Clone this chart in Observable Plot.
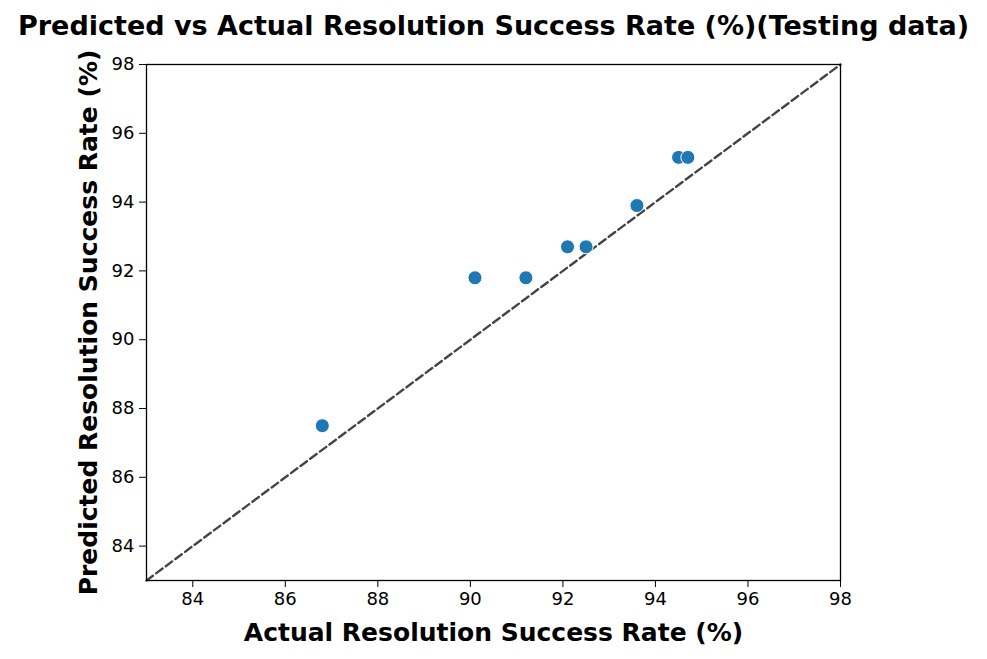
<!DOCTYPE html>
<html><head><meta charset="utf-8">
<script src="https://cdn.jsdelivr.net/npm/d3@7"></script>
<script src="https://cdn.jsdelivr.net/npm/@observablehq/plot@0.6"></script>
<style>
body{margin:0;background:#fff;font-family:"DejaVu Sans",sans-serif;}
#title{height:46px;line-height:52px;text-align:center;font-weight:bold;font-size:27px;color:#000;width:987px;white-space:nowrap;}
</style></head><body>
<div id="title">Predicted vs Actual Resolution Success Rate (%)(Testing data)</div>
<div id="chart"></div>
<script>
const actual = [86.8, 90.1, 91.2, 92.1, 92.5, 93.6, 94.5, 94.7];
const predicted = [87.5, 91.8, 91.8, 92.7, 92.7, 93.9, 95.3, 95.3];
const ticks = [84, 86, 88, 90, 92, 94, 96, 98];
const diagonal = [83, 98];
const xLabel = "Actual Resolution Success Rate (%)";
const yLabel = "Predicted Resolution Success Rate (%)";

const points = actual.map((a, i) => ({actual: a, predicted: predicted[i]}));
const diag = diagonal.map(v => ({x: v, y: v}));

const chart = Plot.plot({
  width: 987, height: 613,
  marginLeft: 146, marginRight: 147, marginTop: 18, marginBottom: 79,
  style: {fontFamily: "DejaVu Sans, sans-serif", fontSize: "18px", color: "#000", background: "#fff", overflow: "visible"},
  x: {domain: [83, 98], ticks: ticks, label: null},
  y: {domain: [83, 98], ticks: ticks, label: null},
  marks: [
    Plot.line(diag, {x: "x", y: "y", stroke: "#444", strokeWidth: 2.4, strokeDasharray: "8,4"}),
    Plot.dot(points, {x: "actual", y: "predicted", r: 7, fill: "#1f77b4", stroke: "#fff", strokeWidth: 1}),
    Plot.frame({stroke: "#000", strokeWidth: 1.3}),
    Plot.axisX({ticks: ticks, tickSize: 7, tickPadding: 5, fontSize: 18, label: null, stroke: "#000"}),
    Plot.axisY({ticks: ticks, tickSize: 7, tickPadding: 5, fontSize: 18, label: null, stroke: "#000"}),
    Plot.text([xLabel], {text: d => d, frameAnchor: "bottom", dy: 52, fontSize: 25, fontWeight: "bold", lineAnchor: "middle", textAnchor: "middle"}),
    Plot.text([yLabel], {text: d => d, frameAnchor: "left", dx: -58, rotate: -90, fontSize: 25, fontWeight: "bold", lineAnchor: "middle", textAnchor: "middle"})
  ]
});
document.getElementById("chart").appendChild(chart);
</script>
</body></html>
